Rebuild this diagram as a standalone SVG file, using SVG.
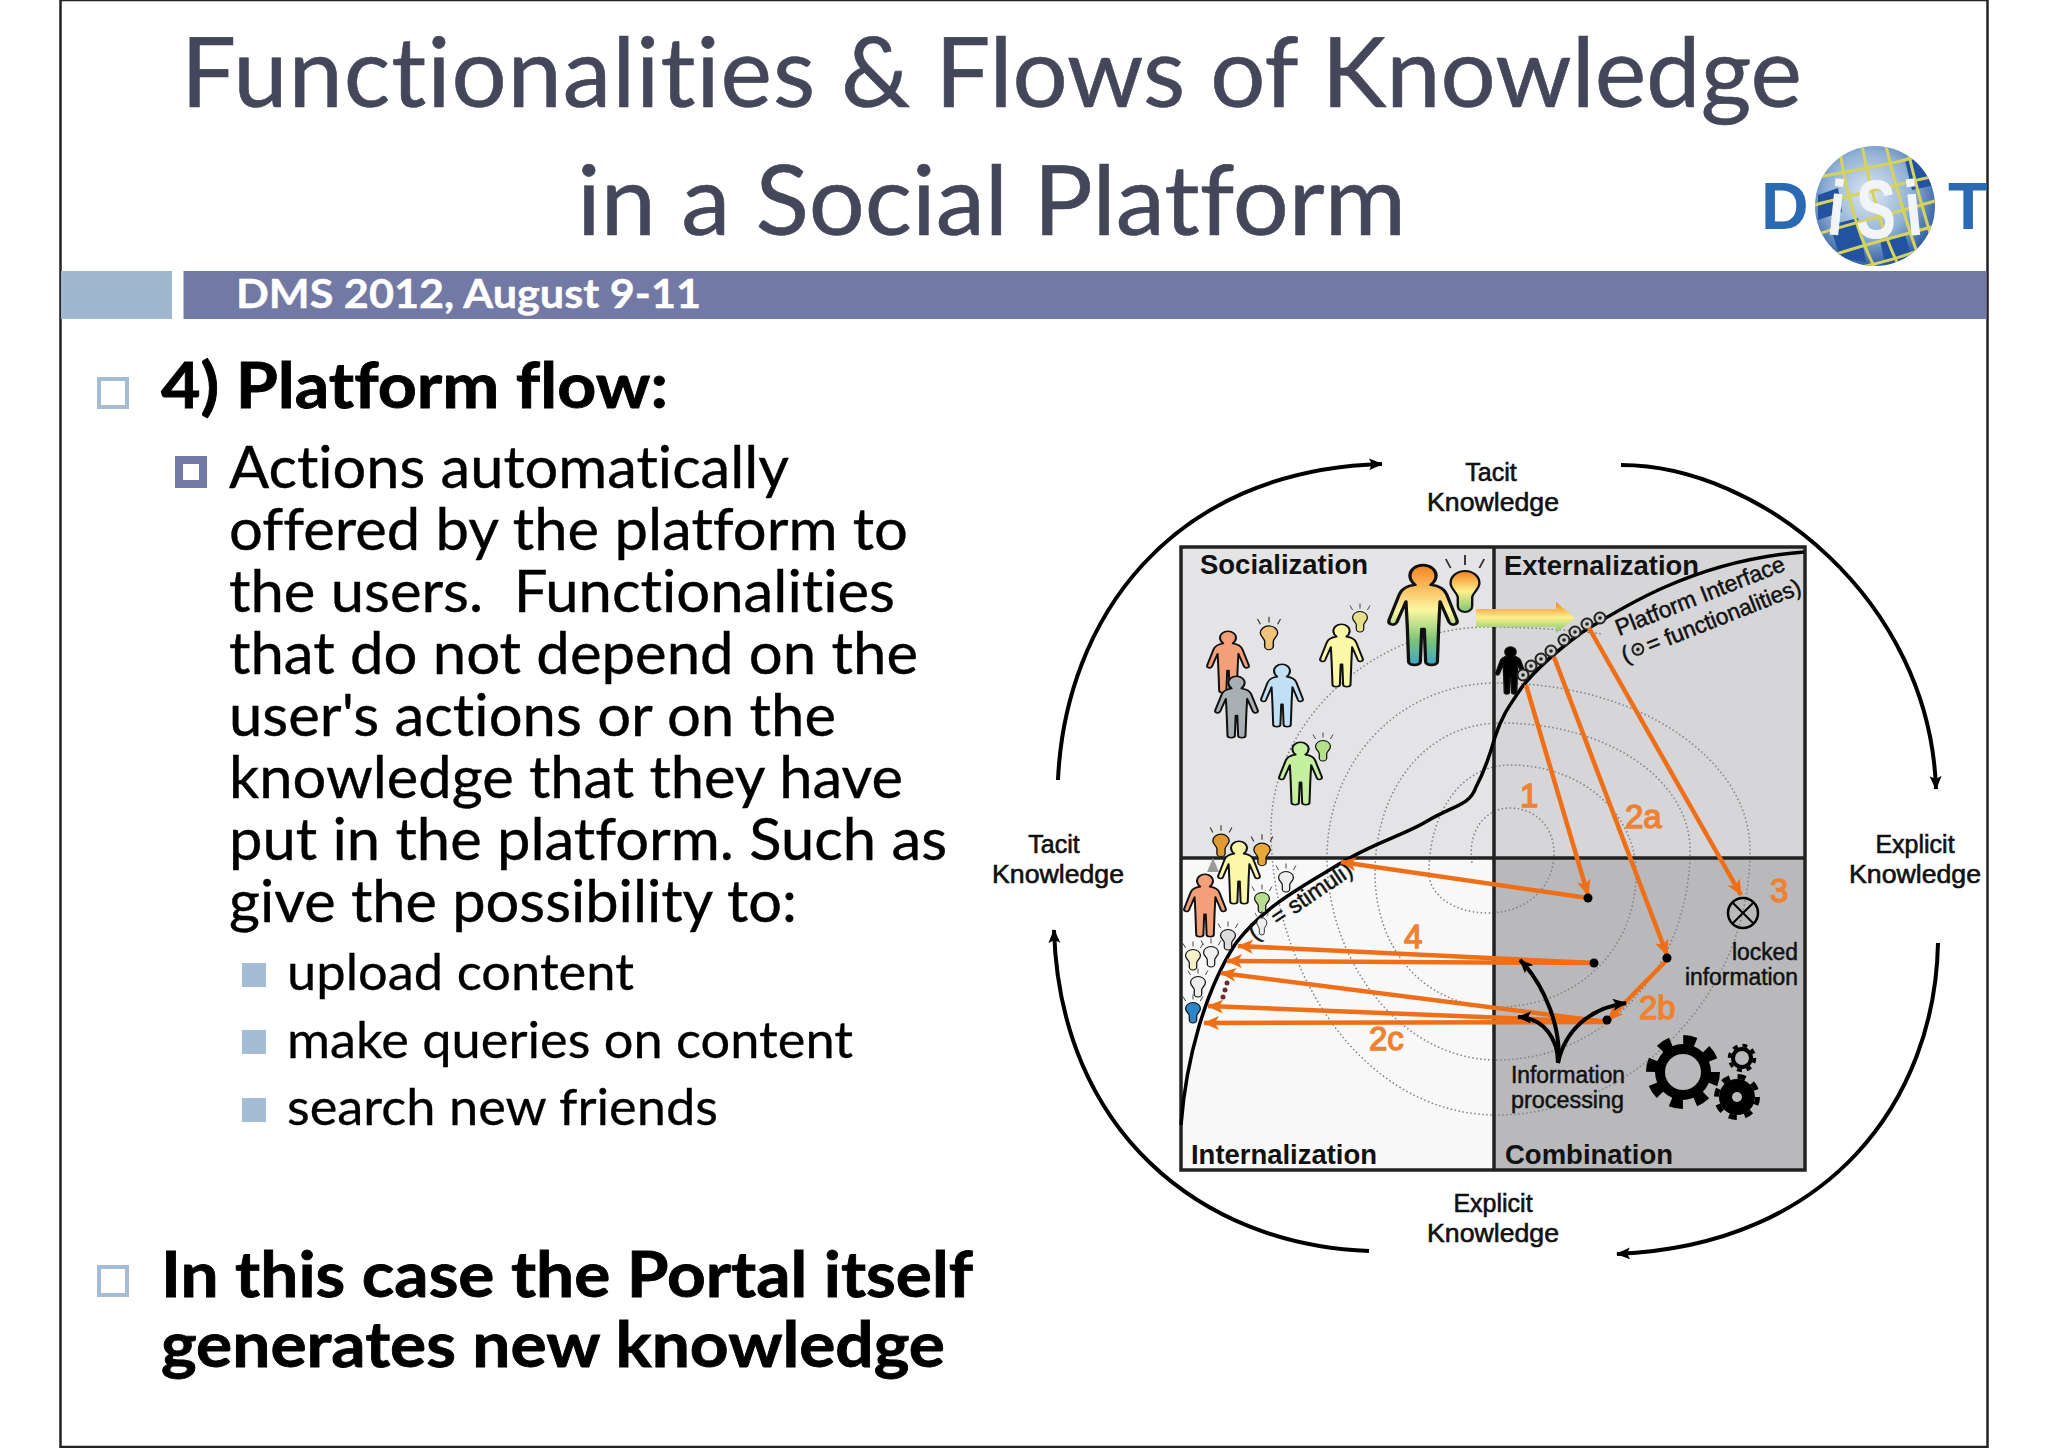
<svg xmlns="http://www.w3.org/2000/svg" width="2048" height="1448" viewBox="0 0 2048 1448">
<style>
text{font-variant-ligatures:none}
.title{font-family:Lato,"Open Sans",sans-serif;font-size:96px;fill:#44475a;stroke:#44475a;stroke-width:.6}
.h1{font-family:Lato,"Open Sans",sans-serif;font-size:63px;font-weight:700;fill:#000;stroke:#000;stroke-width:.8}
.b1{font-family:Lato,"Open Sans",sans-serif;font-size:59px;fill:#000;stroke:#000;stroke-width:.4}
.b2{font-family:Lato,"Open Sans",sans-serif;font-size:50px;fill:#000;stroke:#000;stroke-width:.3}
.lab{font-family:"Liberation Sans",Arial,sans-serif;font-size:25px;fill:#111;text-anchor:middle;stroke:#111;stroke-width:.6}
.q{font-family:"Liberation Sans",Arial,sans-serif;font-size:28px;font-weight:700;fill:#111}
.sm{font-family:"Liberation Sans",Arial,sans-serif;font-size:23px;fill:#111;stroke:#111;stroke-width:.5}
.num{font-family:"Liberation Sans",Arial,sans-serif;font-size:33px;fill:#ee8232;stroke:#ee8232;stroke-width:1.400}
.or{fill:none;stroke:#ee6f18;stroke-width:4.5}
.bk{fill:none;stroke:#000;stroke-width:4}
.dotc{fill:#000}
.tg{fill:#ccc;stroke:#222;stroke-width:2}
.sq{fill:#fff;stroke:#a5bdd4;stroke-width:4}
.sb{fill:#a5bdd4}
.p{stroke:#111;stroke-width:5;stroke-linejoin:round}
.bl{stroke:#111;stroke-width:2}
.lg{font-family:"Liberation Sans",sans-serif;font-weight:700;font-size:66px;fill:#2a6ab5}
.lw{font-family:"Liberation Sans",sans-serif;font-weight:700;fill:#f2f5f8;text-anchor:middle}
</style>
<defs>
<linearGradient id="rb" x1="0" y1="0" x2="0" y2="1"><stop offset="0" stop-color="#f58220"/><stop offset=".45" stop-color="#fdf6a0"/><stop offset=".75" stop-color="#7cc576"/><stop offset="1" stop-color="#3fa5c8"/></linearGradient>
<linearGradient id="rb2" x1="0" y1="0" x2="0" y2="1"><stop offset="0" stop-color="#f58220"/><stop offset=".5" stop-color="#fdf08a"/><stop offset="1" stop-color="#7cc576"/></linearGradient>
<radialGradient id="gl" cx=".45" cy=".4" r=".65"><stop offset="0" stop-color="#dfe8f2"/><stop offset=".55" stop-color="#8fb0d4"/><stop offset="1" stop-color="#1f4f98"/></radialGradient>
<clipPath id="glc"><circle cx="1875" cy="206" r="60"/></clipPath>
<clipPath id="fr"><rect x="60" y="0" width="1927" height="1448"/></clipPath>
<marker id="ao" markerUnits="userSpaceOnUse" markerWidth="18" markerHeight="16" refX="15" refY="7" orient="auto"><path d="M0 0L16 7L0 14L4 7Z" fill="#ee6f18"/></marker>
<marker id="ak" markerUnits="userSpaceOnUse" markerWidth="16" markerHeight="14" refX="13" refY="6" orient="auto"><path d="M0 0L14 6L0 12L3 6Z" fill="#000"/></marker>
<symbol id="person" viewBox="-3 -2 110 200" preserveAspectRatio="none" overflow="visible"><path class="p" d="M52 2C64 2 72 12 72 22C72 30 68 36 64 40C76 42 84 46 88 58L104 108C106 116 96 120 92 112L78 72L76 120L74 188C74 196 56 196 56 188L54 125L50 125L48 188C48 196 30 196 30 188L28 120L26 72L12 112C8 120 -2 116 0 108L16 58C20 46 28 42 40 40C36 36 32 30 32 22C32 12 40 2 52 2Z"/></symbol>
<g id="bulb"><path class="bl" d="M-12 5A12 12 0 1 1 12 5C12 11 7 14 6 19L6 28A6 6 0 0 1 -6 28L-6 19C-7 14 -12 11 -12 5Z"/><path d="M0 -13V-23M-12 -10L-16 -19M12 -10L16 -19" stroke="#333" stroke-width="1.600" fill="none"/></g>
<g id="tgt"><circle class="tg" r="5.500"/><circle r="1.800" fill="#222"/></g>
</defs>

<rect width="2048" height="1448" fill="#fff"/>
<rect x="60.500" y="0" width="1927" height="1447" fill="none" stroke="#222" stroke-width="2.500"/>

<g id="title">
<text class="title" x="181" y="107" textLength="1621" lengthAdjust="spacingAndGlyphs"><tspan letter-spacing=".9">Functionalities</tspan> &amp; Flows of Knowledge</text>
<text class="title" x="577" y="235" textLength="829" lengthAdjust="spacingAndGlyphs">in a Social Platform</text>
</g>

<g id="header-bar">
<rect x="61" y="271" width="111" height="48" fill="#a0b8cf"/>
<rect x="183.500" y="271" width="1803" height="48" fill="#7379a5"/>
<text x="236" y="308" textLength="465" lengthAdjust="spacingAndGlyphs" style="font-family:Lato,sans-serif;font-size:41px;font-weight:700;fill:#fff;stroke:#fff;stroke-width:.4">DMS 2012, August 9-11</text>
</g>

<g id="logo" clip-path="url(#fr)">
<text class="lg" x="1761" y="229">D</text>
<text class="lg" x="1948" y="229">T</text>
<circle cx="1875" cy="206" r="60" fill="url(#gl)"/>
<g clip-path="url(#glc)">
<path d="M1830 225L1858 218L1866 262L1840 258ZM1880 240L1905 234L1912 258L1885 264ZM1905 160L1935 150L1935 185L1912 190ZM1818 195L1838 188L1842 212L1818 220Z" fill="#2353a0"/>
<g fill="none" stroke="#d6d35c" stroke-width="3">
<path d="M1815 178C1850 170 1900 165 1935 150M1815 205C1850 195 1900 185 1938 175M1815 235C1855 222 1900 212 1938 200M1825 258C1860 245 1905 235 1938 225M1840 272C1870 265 1905 258 1930 245"/>
<path d="M1840 150C1845 190 1860 240 1875 268M1862 145C1870 190 1885 240 1900 268M1885 142C1895 185 1910 235 1920 260M1908 150C1915 185 1925 215 1932 240"/>
</g>
</g>
<text class="lw" x="1876" y="238" font-size="84" textLength="40" lengthAdjust="spacingAndGlyphs">S</text>
<text class="lw" font-size="78" transform="translate(1834 235) rotate(6)" textLength="17" lengthAdjust="spacingAndGlyphs">i</text>
<text class="lw" font-size="78" transform="translate(1916 235) rotate(-6)" textLength="17" lengthAdjust="spacingAndGlyphs">i</text>
</g>

<g id="text-body">
<rect class="sq" x="99" y="379" width="28" height="28"/>
<text class="h1" x="161" y="408" textLength="507" lengthAdjust="spacingAndGlyphs">4) Platform flow:</text>
<rect x="175" y="456" width="32" height="32" fill="#7379a5"/><rect x="183" y="464" width="16" height="16" fill="#fff"/>
<text class="b1" x="229" y="488" textLength="560" lengthAdjust="spacingAndGlyphs">Actions automatically</text>
<text class="b1" x="229" y="550" textLength="679" lengthAdjust="spacingAndGlyphs">offered by the platform to</text>
<text class="b1" x="229" y="612" textLength="666" lengthAdjust="spacingAndGlyphs" xml:space="preserve">the users.  Functionalities</text>
<text class="b1" x="229" y="674" textLength="689" lengthAdjust="spacingAndGlyphs">that do not depend on the</text>
<text class="b1" x="229" y="736" textLength="607" lengthAdjust="spacingAndGlyphs">user's actions or on the</text>
<text class="b1" x="229" y="798" textLength="674" lengthAdjust="spacingAndGlyphs">knowledge that they have</text>
<text class="b1" x="229" y="860" textLength="718" lengthAdjust="spacingAndGlyphs">put in the platform. Such as</text>
<text class="b1" x="229" y="922" textLength="568" lengthAdjust="spacingAndGlyphs">give the possibility to:</text>
<rect class="sb" x="242" y="963" width="24" height="24"/>
<text class="b2" x="287" y="990" textLength="347" lengthAdjust="spacingAndGlyphs">upload content</text>
<rect class="sb" x="242" y="1030" width="24" height="24"/>
<text class="b2" x="287" y="1058" textLength="566" lengthAdjust="spacingAndGlyphs">make queries on content</text>
<rect class="sb" x="242" y="1098" width="24" height="24"/>
<text class="b2" x="287" y="1125" textLength="431" lengthAdjust="spacingAndGlyphs">search new friends</text>
<rect class="sq" x="99" y="1267" width="28" height="28"/>
<text class="h1" x="161" y="1297" textLength="812" lengthAdjust="spacingAndGlyphs">In this case the Portal itself</text>
<text class="h1" x="161" y="1367" textLength="784" lengthAdjust="spacingAndGlyphs">generates new knowledge</text>
</g>

<g id="outer-labels">
<text class="lab" x="1491" y="481">Tacit</text><text class="lab" x="1493" y="511" textLength="132" lengthAdjust="spacingAndGlyphs">Knowledge</text>
<text class="lab" x="1054" y="853">Tacit</text><text class="lab" x="1058" y="883" textLength="132" lengthAdjust="spacingAndGlyphs">Knowledge</text>
<text class="lab" x="1915" y="853">Explicit</text><text class="lab" x="1915" y="883" textLength="132" lengthAdjust="spacingAndGlyphs">Knowledge</text>
<text class="lab" x="1493" y="1212">Explicit</text><text class="lab" x="1493" y="1242" textLength="132" lengthAdjust="spacingAndGlyphs">Knowledge</text>
</g>

<g id="quadrants">
<g id="q-socialization"><rect x="1181" y="547" width="313" height="311" fill="#e4e4e6"/><text class="q" x="1200" y="574" textLength="168" lengthAdjust="spacingAndGlyphs">Socialization</text></g>
<g id="q-externalization"><rect x="1494" y="547" width="311" height="311" fill="#d6d6d8"/><text class="q" x="1504" y="575" textLength="195" lengthAdjust="spacingAndGlyphs">Externalization</text></g>
<g id="q-internalization"><rect x="1181" y="858" width="313" height="312" fill="#f8f8f9"/><text class="q" x="1191" y="1164" textLength="186" lengthAdjust="spacingAndGlyphs">Internalization</text></g>
<g id="q-combination"><rect x="1494" y="858" width="311" height="312" fill="#b9b9bb"/><text class="q" x="1505" y="1164" textLength="168" lengthAdjust="spacingAndGlyphs">Combination</text></g>
</g>

<path id="spiral" fill="none" stroke="#808080" stroke-width="1.500" stroke-dasharray="1.500 2.500" d="M1472 863C1467 830 1486 808 1510 808C1536 808 1554 828 1554 853C1554 888 1526 913 1488 913C1454 913 1429 895 1429 873C1429 810 1463 765 1510 765C1583 765 1636 815 1636 873C1636 950 1577 1007 1497 1007C1425 1007 1375 950 1375 873C1375 790 1425 723 1501 723C1608 723 1690 780 1690 850C1690 970 1602 1060 1497 1060C1400 1060 1327 960 1327 858C1327 760 1400 683 1497 683C1640 683 1750 760 1750 850C1750 1000 1627 1115 1497 1115C1362 1115 1271 970 1271 830C1271 720 1375 627 1488 627C1539 627 1589 632 1602 634"/>

<g id="frame-lines" fill="none" stroke="#222" stroke-width="3.500">
<rect x="1181" y="547" width="624" height="623"/>
<path d="M1494 547V1170M1181 858H1805"/>
</g>

<path id="interface-curve" fill="none" stroke="#000" stroke-width="3.500" d="M1181 1125C1186 1060 1205 990 1236 943C1265 905 1305 885 1341 863C1375 842 1405 835 1429 820C1455 805 1470 805 1476 787C1485 770 1490 755 1495 737C1502 715 1510 705 1522 687C1537 668 1558 650 1581 633C1610 615 1635 600 1665 587C1715 565 1765 555 1804 552"/>

<g id="people">
<use href="#person" x="1387" y="563" width="72" height="104" fill="url(#rb)"/>
<use href="#person" x="1206" y="630" width="44" height="64" fill="#f3a07a"/>
<use href="#person" x="1214" y="675" width="45" height="64" fill="#a8b0b3"/>
<use href="#person" x="1260" y="663" width="44" height="65" fill="#bfe0f5"/>
<use href="#person" x="1319" y="623" width="45" height="65" fill="#fbf8a8"/>
<use href="#person" x="1278" y="741" width="45" height="65" fill="#c4f0a0"/>
<use href="#person" x="1495" y="646" width="31" height="49" fill="#000"/>
<path d="M1207 872L1213 858L1219 872Z" fill="#9a9a9a"/>
<use href="#person" x="1217" y="840" width="44" height="65" fill="#fbf8a8"/>
<use href="#person" x="1183" y="873" width="44" height="65" fill="#f3a07a"/>
</g>

<g id="bulbs">
<use href="#bulb" transform="translate(1465 578) scale(1.2 1)" fill="url(#rb2)"/>
<use href="#bulb" transform="translate(1269 630) scale(.72 .58)" fill="#f0c27a"/>
<use href="#bulb" transform="translate(1360 615) scale(.62 .5)" fill="#e8e08a"/>
<use href="#bulb" transform="translate(1323 744) scale(.62 .5)" fill="#b4e08c"/>
<use href="#bulb" transform="translate(1221 838) scale(.68 .55)" fill="#e09a30"/>
<use href="#bulb" transform="translate(1262 847) scale(.68 .55)" fill="#e8a838"/>
<use href="#bulb" transform="translate(1286 875) scale(.62 .5)" fill="#eee"/>
<use href="#bulb" transform="translate(1262 896) scale(.62 .5)" fill="#b8dc90"/>
<use href="#bulb" transform="translate(1228 933) scale(.62 .5)" fill="#ddd"/>
<use href="#bulb" transform="translate(1211 950) scale(.62 .5)" fill="#f0f0f0"/>
<use href="#bulb" transform="translate(1193 953) scale(.62 .5)" fill="#f5f2c8"/>
<use href="#bulb" transform="translate(1198 980) scale(.62 .5)" fill="#eee"/>
<use href="#bulb" transform="translate(1193 1006) scale(.62 .5)" fill="#2a86c8"/>
<circle cx="1227" cy="983" r="2.500" fill="#6b2a30"/><circle cx="1225" cy="990" r="2.500" fill="#6b2a30"/><circle cx="1223" cy="997" r="2.500" fill="#6b2a30"/>
</g>

<g id="rainbow-arrow"><path d="M1476 609H1556V602L1575 618L1556 633V627H1476Z" fill="url(#rb2)"/></g>

<g id="functionalities">
<use href="#tgt" x="1523" y="675"/><use href="#tgt" x="1531" y="666"/><use href="#tgt" x="1541" y="659"/><use href="#tgt" x="1551" y="651"/><use href="#tgt" x="1564" y="640"/><use href="#tgt" x="1575" y="632"/><use href="#tgt" x="1587" y="624"/><use href="#tgt" x="1600" y="618"/>
</g>

<g id="rotated-labels">
<text class="sm" transform="translate(1619 636) rotate(-21.500)" textLength="180" lengthAdjust="spacingAndGlyphs">Platform Interface</text>
<g transform="translate(1625 663) rotate(-21.500)"><text class="sm" x="0" y="0">(</text><use href="#tgt" x="17" y="-8"/><text class="sm" x="27" y="0" textLength="164" lengthAdjust="spacingAndGlyphs">= functionalities)</text></g>
<g transform="translate(1255 941) rotate(-34)"><text class="sm" x="0" y="0">(</text><use href="#bulb" transform="translate(17 -13) scale(.42) rotate(34)" fill="#eee"/><text class="sm" x="27" y="0" textLength="93" lengthAdjust="spacingAndGlyphs">= stimuli)</text></g>
</g>

<g id="connectors">
<path class="bk" marker-end="url(#ak)" d="M1058 780C1065 620 1170 470 1382 464"/>
<path class="bk" marker-end="url(#ak)" d="M1621 465C1760 465 1930 600 1936 789"/>
<path class="bk" marker-end="url(#ak)" d="M1938 943C1935 1100 1830 1245 1617 1254"/>
<path class="bk" marker-end="url(#ak)" d="M1369 1251C1200 1245 1060 1130 1054 930"/>
<path class="or" marker-end="url(#ao)" d="M1526 685L1588 895"/>
<path class="or" marker-end="url(#ao)" d="M1554 657L1667 955"/>
<path class="or" marker-end="url(#ao)" d="M1589 628L1741 895"/>
<path class="or" marker-end="url(#ao)" d="M1588 898L1341 862"/>
<path class="or" marker-end="url(#ao)" d="M1594 963L1238 946"/>
<path class="or" marker-end="url(#ao)" d="M1594 963L1227 961"/>
<path class="or" marker-end="url(#ao)" d="M1667 960L1608 1020"/>
<path class="or" marker-end="url(#ao)" d="M1607 1022L1221 973"/>
<path class="or" marker-end="url(#ao)" d="M1607 1022L1208 1006"/>
<path class="or" marker-end="url(#ao)" d="M1607 1022L1204 1023"/>
<path class="bk" marker-end="url(#ak)" d="M1558 1063C1562 1030 1545 985 1520 960"/>
<path class="bk" marker-end="url(#ak)" d="M1558 1063C1558 1040 1545 1018 1518 1017"/>
<path class="bk" marker-end="url(#ak)" d="M1558 1063C1565 1030 1590 1008 1626 1003"/>
<circle class="dotc" cx="1588" cy="898" r="4.500"/><circle class="dotc" cx="1594" cy="963" r="4.500"/><circle class="dotc" cx="1667" cy="958" r="4.500"/><circle class="dotc" cx="1607" cy="1020" r="4.500"/>
</g>

<g id="flow-labels">
<text class="num" x="1520" y="807">1</text>
<text class="num" x="1625" y="828">2a</text>
<text class="num" x="1770" y="902">3</text>
<text class="num" x="1404" y="948">4</text>
<text class="num" x="1639" y="1019">2b</text>
<text class="num" x="1369" y="1050">2c</text>
</g>

<g id="locked-information">
<circle cx="1743" cy="913" r="15" fill="none" stroke="#000" stroke-width="2.500"/>
<path d="M1732 902L1754 924M1754 902L1732 924" stroke="#000" stroke-width="2"/>
<text class="sm" x="1732" y="960" textLength="66" lengthAdjust="spacingAndGlyphs">locked</text>
<text class="sm" x="1685" y="985" textLength="113" lengthAdjust="spacingAndGlyphs">information</text>
</g>

<g id="information-processing">
<text class="sm" x="1511" y="1083" textLength="114" lengthAdjust="spacingAndGlyphs">Information</text>
<text class="sm" x="1511" y="1108" textLength="113" lengthAdjust="spacingAndGlyphs">processing</text>
<g id="gear-large"><circle cx="1683" cy="1072" r="28" fill="#000"/><circle cx="1683" cy="1072" r="32" fill="none" stroke="#000" stroke-width="10" stroke-dasharray="12.560 12.570"/><circle cx="1683" cy="1072" r="18" fill="#b9b9bb"/></g>
<g id="gear-small"><circle cx="1742" cy="1058" r="11" fill="#000"/><circle cx="1742" cy="1058" r="12.500" fill="none" stroke="#000" stroke-width="3.500" stroke-dasharray="4.900 4.920"/><circle cx="1742" cy="1058" r="7" fill="#b9b9bb"/></g>
<g id="gear-medium"><circle cx="1737" cy="1097" r="18" fill="#000"/><circle cx="1737" cy="1097" r="20.500" fill="none" stroke="#000" stroke-width="5" stroke-dasharray="8.050 8.050"/><circle cx="1737" cy="1097" r="5" fill="#b9b9bb"/></g>
</g>
</svg>
